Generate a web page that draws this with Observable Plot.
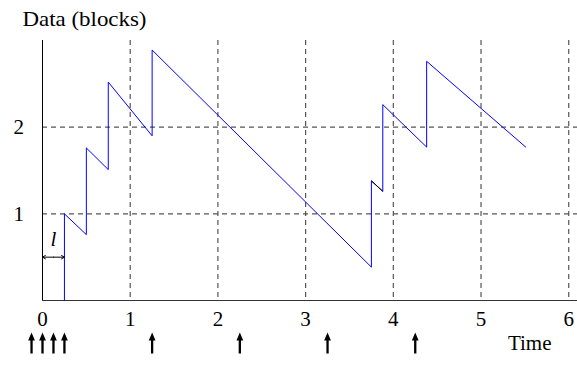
<!DOCTYPE html>
<html><head><meta charset="utf-8">
<script src="https://cdn.jsdelivr.net/npm/d3@7"></script>
<script src="https://cdn.jsdelivr.net/npm/@observablehq/plot@0.6"></script>
<style>body{margin:0;background:#fff}</style>
</head><body><div id="chart"></div>
<script>
// Data: buffered data (blocks) over time — sawtooth
const times  = [0.25, 0.25, 0.5, 0.5, 0.75, 0.75, 1.25, 1.25, 3.75, 3.75, 3.88, 3.88, 4.38, 4.38, 5.51];
const blocks = [0, 1, 0.76, 1.76, 1.51, 2.52, 1.90, 2.89, 0.385, 1.38, 1.26, 2.26, 1.77, 2.76, 1.77];
// short segment drawn in black in the original
const blackTimes  = [3.75, 3.88];
const blackBlocks = [1.38, 1.26];
// arrival instants (arrows below axis)
const arrivals = [-0.125, 0, 0.125, 0.25, 1.25, 2.25, 3.25, 4.25];
// tick labels
const xTicks = [0, 1, 2, 3, 4, 5, 6];
const yTicks = [1, 2];
const gridX = [1, 2, 3, 4, 5, 6];
const gridY = [1, 2];
const latency = 0.25;
const latencyLabel = "l";
const yTitle = "Data (blocks)";
const xTitle = "Time";

const series = times.map((t, i) => ({t, v: blocks[i]}));
const blackSeries = blackTimes.map((t, i) => ({t, v: blackBlocks[i]}));

const arrowSymbol = {
  draw(ctx) {
    ctx.moveTo(0, -10.5);
    ctx.lineTo(3.4, -2.5);
    ctx.lineTo(1.15, -2.5);
    ctx.lineTo(1.15, 10.5);
    ctx.lineTo(-1.15, 10.5);
    ctx.lineTo(-1.15, -2.5);
    ctx.lineTo(-3.4, -2.5);
    ctx.closePath();
  }
};

const font = "'Liberation Serif', 'Times New Roman', serif";
const gridStyle = {stroke: "#555", strokeWidth: 1.2, strokeDasharray: "5,4"};
const latY = 0.5;
const fs = 21;

const plot = Plot.plot({
  width: 577,
  height: 366,
  marginLeft: 42,
  marginRight: 0,
  marginTop: 40,
  marginBottom: 66,
  x: {domain: [0, 6.1], axis: null},
  y: {domain: [0, 3], axis: null},
  style: {fontFamily: font, background: "#fff", overflow: "visible"},
  marks: [
    Plot.ruleX(gridX, gridStyle),
    Plot.ruleY(gridY, gridStyle),
    Plot.ruleX([0], {stroke: "#000", strokeWidth: 1}),
    Plot.ruleY([0], {stroke: "#333", strokeWidth: 1.2}),
    Plot.line(series, {x: "t", y: "v", stroke: "#0000ff", strokeWidth: 1}),
    Plot.line(blackSeries, {x: "t", y: "v", stroke: "#000", strokeWidth: 1}),
    Plot.text(xTicks, {x: d => d, frameAnchor: "bottom", dy: 25, fontSize: fs, fill: "#000"}),
    Plot.text(yTicks, {y: d => d, frameAnchor: "left", dx: -29, fontSize: fs, fill: "#000"}),
    Plot.dot(arrivals, {x: d => d, frameAnchor: "bottom", dy: 42.5, symbol: arrowSymbol, fill: "#000", stroke: "none"}),
    Plot.arrow([latency], {x1: d => d / 2, x2: 0, y1: latY, y2: latY, headLength: 5, strokeWidth: 1, stroke: "#000"}),
    Plot.arrow([latency], {x1: d => d / 2, x2: d => d, y1: latY, y2: latY, headLength: 5, strokeWidth: 1, stroke: "#000"}),
    Plot.text([latencyLabel], {x: latency / 2, y: latY, dy: -18, fontSize: fs, fontStyle: "italic", fill: "#000"}),
    Plot.text([yTitle], {frameAnchor: "top-left", dx: -20, dy: -29, textAnchor: "start", fontSize: fs, fill: "#000"}),
    Plot.text([xTitle], {frameAnchor: "bottom-right", dx: -26, dy: 49, textAnchor: "end", fontSize: fs, fill: "#000"})
  ]
});
// the original lettering is slightly wider than Liberation Serif
d3.select(plot).selectAll("text").filter(function() { return this.textContent === yTitle; })
  .attr("textLength", 124).attr("lengthAdjust", "spacingAndGlyphs");
document.getElementById("chart").appendChild(plot);
</script>
</body></html>
